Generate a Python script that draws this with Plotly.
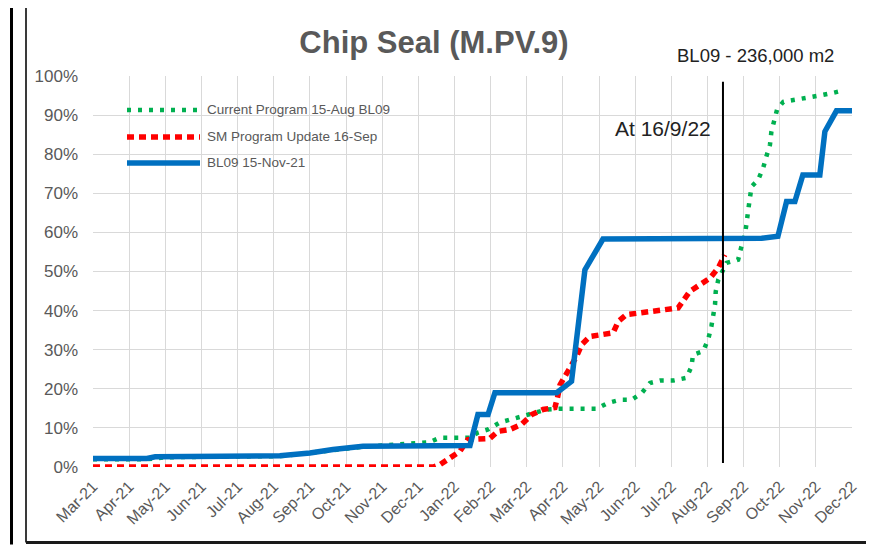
import plotly.graph_objects as go

# Month tick labels (positions 0..21 on the month axis)
month_labels = ["Mar-21", "Apr-21", "May-21", "Jun-21", "Jul-21", "Aug-21", "Sep-21",
                "Oct-21", "Nov-21", "Dec-21", "Jan-22", "Feb-22", "Mar-22", "Apr-22",
                "May-22", "Jun-22", "Jul-22", "Aug-22", "Sep-22", "Oct-22", "Nov-22", "Dec-22"]

# Series: x = month position (0 = Mar-21), y = percent complete
green_x = [0, 1.5, 2.0, 4.0, 5.2, 7.5, 9.3, 9.6, 10.43, 10.65, 10.93, 11.26, 11.58, 11.89,
           12.23, 12.55, 12.92, 13.93, 14.25, 14.58, 14.9, 15.18, 15.41, 15.69, 16.05,
           16.42, 16.56, 16.6, 16.88, 17.02, 17.11, 17.16, 17.21, 17.23, 17.3, 17.53,
           17.85, 17.94, 18.04, 18.13, 18.22, 18.4, 18.54, 18.63, 18.73, 18.77, 18.87,
           18.93, 19.1, 19.42, 19.79, 20.16, 20.48, 20.8]
green_y = [2.0, 2.0, 2.5, 2.7, 2.8, 5.2, 6.3, 7.5, 7.5, 8.8, 9.6, 11.4, 12.1, 13.0,
           13.9, 14.7, 14.9, 14.9, 16.4, 17.2, 17.2, 18.9, 21.5, 22.1, 22.1,
           22.8, 25.7, 28.7, 29.6, 32.6, 36.0, 38.5, 41.5, 44.9, 47.9, 52.2,
           53.0, 56.4, 59.4, 65.8, 71.7, 73.4, 76.4, 79.4, 82.4, 85.8, 88.8,
           91.5, 93.4, 93.9, 94.3, 95.1, 95.7, 96.4]

red_x = [0, 9.41, 9.6, 9.88, 10.15, 10.37, 10.71, 10.98, 11.2, 11.54, 11.86, 12.14, 12.45,
         12.78, 12.86, 12.92, 13.38, 13.52, 13.75, 14.07, 14.39, 14.53, 14.76, 15.13,
         15.5, 15.87, 16.19, 16.51, 16.79, 17.07, 17.3, 17.48]
red_y = [0, 0, 0.6, 2.4, 4.0, 7.0, 7.0, 7.3, 9.1, 9.6, 10.9, 13.4, 14.7,
         15.2, 18.1, 21.0, 28.3, 31.3, 33.4, 33.8, 34.3, 37.2, 39.0, 39.4,
         39.8, 40.4, 40.7, 44.9, 46.6, 48.3, 50.9, 54.3]

blue_x = [0, 1.49, 1.72, 3.98, 5.17, 6.0, 6.64, 7.47, 9.88, 10.43, 10.65, 10.93, 11.12,
          12.83, 13.24, 13.61, 13.8, 14.11, 18.5, 18.95, 19.19, 19.42, 19.64, 20.11,
          20.25, 20.57, 21.0]
blue_y = [2.2, 2.2, 2.6, 2.9, 2.9, 3.6, 4.5, 5.3, 5.5, 5.5, 13.4, 13.4, 19.0,
          19.0, 21.9, 50.4, 53.4, 58.3, 58.5, 59.0, 67.9, 67.9, 74.7, 74.7,
          85.8, 91.1, 91.1]

series_names = ["Current Program 15-Aug BL09", "SM Program Update 16-Sep", "BL09 15-Nov-21"]
status_x = 17.43          # "At 16/9/22" marker position on month axis
status_y = [1.0, 98.5]

GREEN = "#00B050"
RED = "#FF0000"
BLUE = "#0070C0"
GRAY = "#595959"
FONT = "Liberation Sans, Arial, sans-serif"

fig = go.Figure()
fig.add_trace(go.Scatter(x=green_x, y=green_y, mode="lines", name=series_names[0],
                         line=dict(color=GREEN, width=4.5, dash="4px,7px"), showlegend=False))
fig.add_trace(go.Scatter(x=red_x, y=red_y, mode="lines", name=series_names[1],
                         line=dict(color=RED, width=5.5, dash="7px,5px"), showlegend=False))
fig.add_trace(go.Scatter(x=blue_x, y=blue_y, mode="lines", name=series_names[2],
                         line=dict(color=BLUE, width=5.5), showlegend=False))
fig.add_trace(go.Scatter(x=[status_x, status_x], y=status_y, mode="lines",
                         line=dict(color="black", width=2), showlegend=False, hoverinfo="skip"))

# page body has an 8px margin: figure is drawn at (8, 8) in the window
OFF = 8
W, H = 874 - OFF, 545 - OFF
L, R, T, B = 93 - OFF, 22, 76 - OFF, 77.5
pw, ph = W - L - R, H - T - B


def px(xp):
    # xp given in window pixel coordinates
    return (xp - OFF - L) / pw


def py(yp):
    return (H - B - (yp - OFF)) / ph


shapes = []
# outer frame of chart (left, top, bottom)
shapes.append(dict(type="line", xref="paper", yref="paper", x0=px(26), x1=px(26),
                   y0=py(543), y1=py(7), line=dict(color="#3a3a3a", width=2)))
shapes.append(dict(type="line", xref="paper", yref="paper", x0=px(26), x1=px(874),
                   y0=py(7), y1=py(7), line=dict(color="#3a3a3a", width=2)))
shapes.append(dict(type="line", xref="paper", yref="paper", x0=px(26), x1=px(874),
                   y0=py(543), y1=py(543), line=dict(color="#1a1a1a", width=3)))
# neighbouring panel edge
shapes.append(dict(type="line", xref="paper", yref="paper", x0=px(11.5), x1=px(11.5),
                   y0=py(545), y1=py(8), line=dict(color="black", width=3)))

# manual legend
leg_rows = [110, 137, 163]
leg_styles = [dict(color=GREEN, width=4.5, dash="4px,7px"),
              dict(color=RED, width=5.5, dash="7px,5px"),
              dict(color=BLUE, width=5.5)]
annotations = []
for row, style, name in zip(leg_rows, leg_styles, series_names):
    shapes.append(dict(type="line", xref="paper", yref="paper", x0=px(127), x1=px(200),
                       y0=py(row), y1=py(row), line=style))
    annotations.append(dict(xref="paper", yref="paper", x=px(205), y=py(row), text=name,
                            showarrow=False, xanchor="left", yanchor="middle",
                            font=dict(family=FONT, size=13.5, color=GRAY)))

annotations.append(dict(x=17.15, y=86.7, text="At 16/9/22", showarrow=False,
                        xanchor="right", yanchor="middle",
                        font=dict(family=FONT, size=21, color="#222222")))
annotations.append(dict(xref="paper", yref="paper", x=px(755), y=py(55),
                        text="BL09 - 236,000 m2", showarrow=False,
                        xanchor="center", yanchor="middle",
                        font=dict(family=FONT, size=18.5, color="#222222")))

fig.update_layout(
    width=W, height=H,
    margin=dict(l=L, r=R, t=T, b=B, pad=0, autoexpand=False),
    paper_bgcolor="white", plot_bgcolor="white",
    title=dict(text="<b>Chip Seal (M.PV.9)</b>", x=(434 - OFF) / W, xref="container",
               xanchor="center", y=1 - (42 - OFF) / H, yref="container", yanchor="middle",
               font=dict(family=FONT, size=31, color=GRAY)),
    shapes=shapes, annotations=annotations,
    showlegend=False,
)
fig.update_xaxes(range=[0, 21], tickmode="array", tickvals=list(range(len(month_labels))),
                 ticktext=month_labels, tickangle=-45, showgrid=True, gridcolor="#D9D9D9",
                 gridwidth=1.3, zeroline=False, showline=False, ticks="",
                 ticklabelstandoff=6, automargin=False,
                 tickfont=dict(family=FONT, size=16, color=GRAY))
fig.update_yaxes(range=[0, 100], tickmode="array", tickvals=list(range(0, 101, 10)),
                 ticktext=[f"{v}%" for v in range(0, 101, 10)], showgrid=True,
                 gridcolor="#D9D9D9", gridwidth=1.3, zeroline=False, showline=False,
                 ticks="", ticklabelstandoff=14, automargin=False,
                 tickfont=dict(family=FONT, size=17, color=GRAY))

fig.write_html("out.html")
